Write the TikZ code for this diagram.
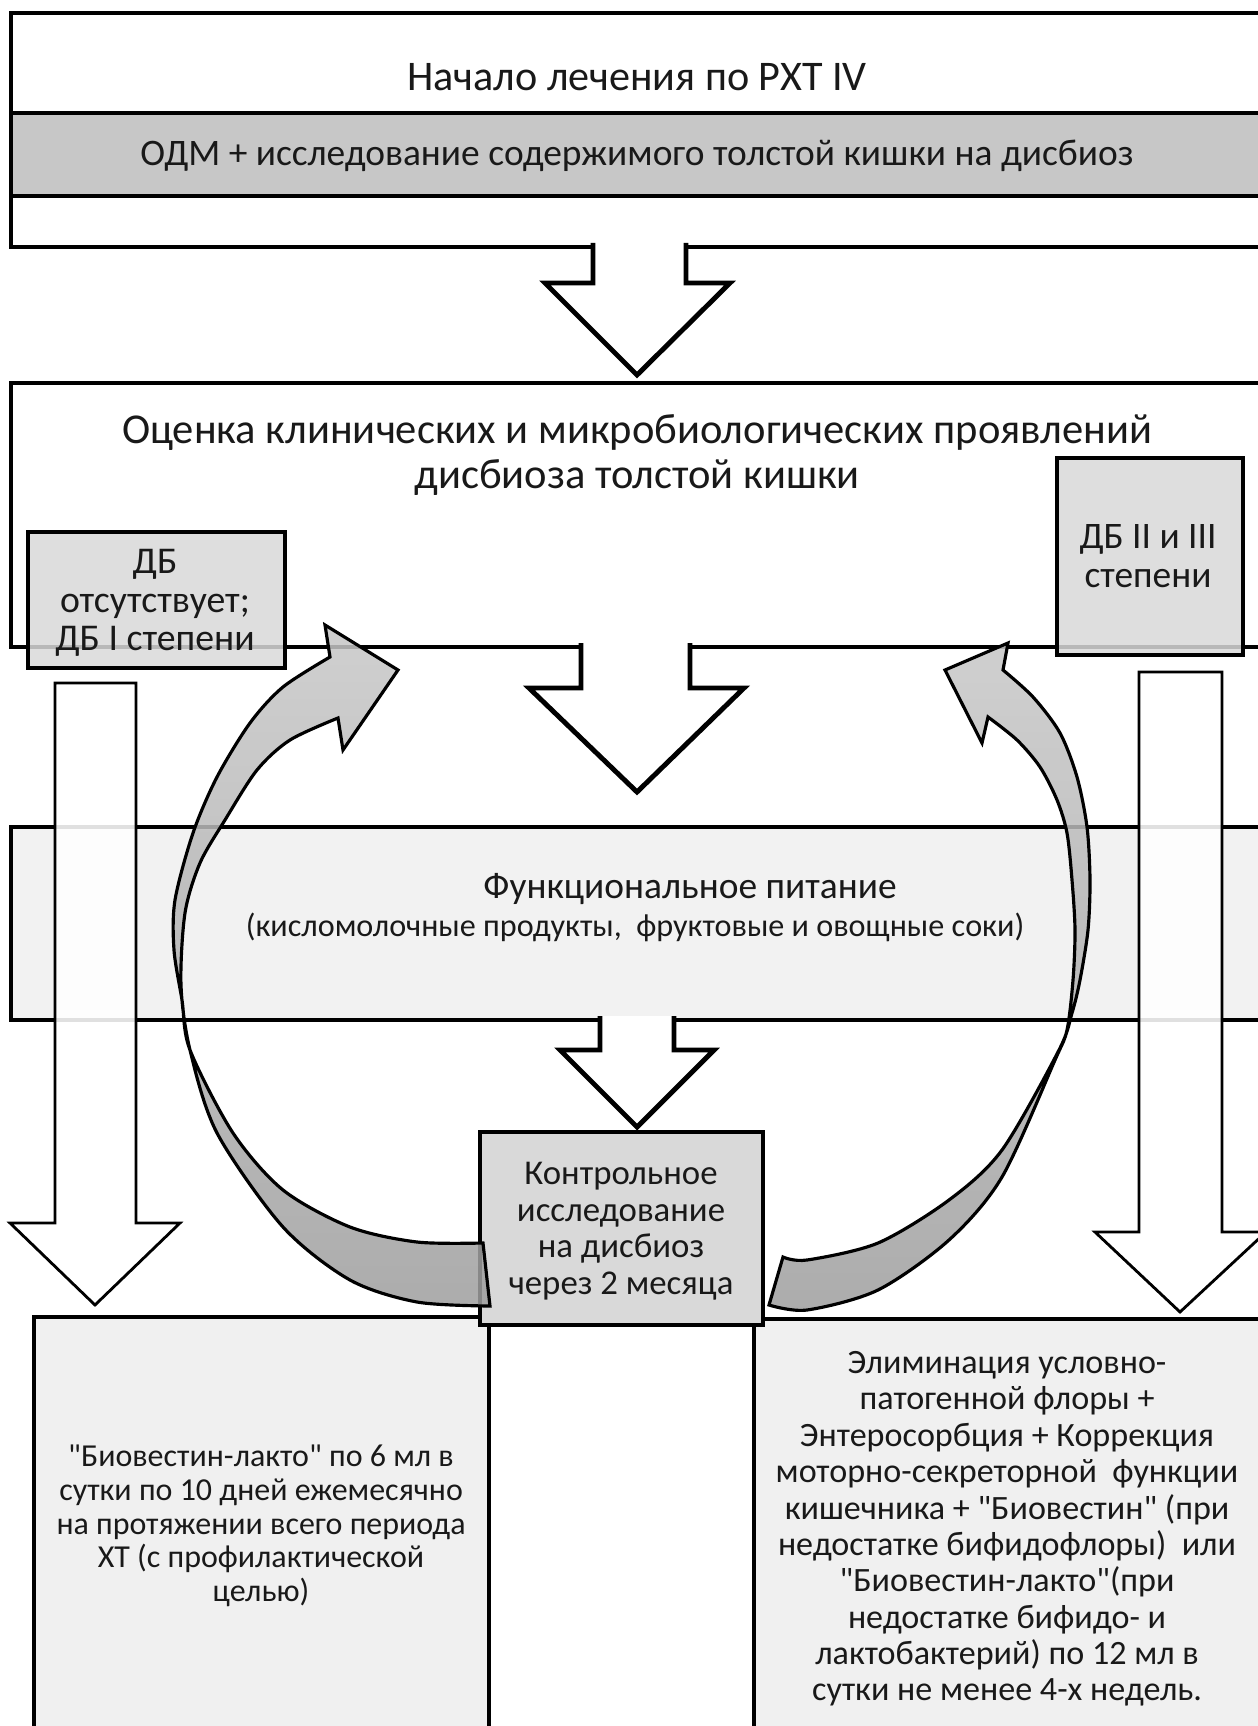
\documentclass[tikz,border=0pt]{standalone}
\usepackage{fontspec}
\setmainfont{Carlito}
\newfontfamily\calfont{Carlito}
\usetikzlibrary{positioning, fit}

\tikzset{
  bigbox/.style={draw, line width=2.8pt, fill=white, inner sep=0pt},
  smallbox/.style={draw, line width=1.8pt, fill=black!15, fill opacity=0.85, inner sep=0pt},
  blockarrow/.style={draw, line width=2.8pt, fill=white, line join=miter},
  thinarrow/.style={draw, line width=1.6pt, fill=white, fill opacity=0.88, line join=miter},
  curvearrow/.style={draw, line width=1.8pt, top color=black!22, bottom color=black!38, fill opacity=0.85},
  boxtext/.style={text=black!90, align=center, inner sep=0pt},
  fsize/.style 2 args={font=\calfont\fontsize{#1pt}{#2pt}\selectfont}
}

\begin{document}
\begin{tikzpicture}[x=0.02cm, y=-0.02cm]
    \useasboundingbox (0,0) rectangle (1257,1726);

    % start of treatment
    \node[bigbox, fit={(11,13) (1290,247)}] (startbox) {};
    \node[bigbox, fill=black!22, fit={(11,113) (1290,196)}] (odmband) {};
    \node[boxtext, fsize={24}{28}] (start) at (637,77) {Начало лечения по РХТ IV};
    \node[boxtext, fsize={21.3}{25}] (odm) at (637,156) {ОДМ + исследование содержимого толстой кишки на дисбиоз};

    \filldraw[blockarrow] (593,243) -- (593,283) -- (545,283) -- (637,375) -- (730,283) -- (686,283) -- (686,243);

    % assessment
    \node[bigbox, fit={(11,383) (1290,647)}] (assessbox) {};
    \node[boxtext, fsize={24.2}{25.6}] (assess) at (637,455) {Оценка клинических и микробиологических проявлений\\дисбиоза толстой кишки};

    \filldraw[blockarrow] (581,643) -- (581,688) -- (529,688) -- (637,792) -- (744,688) -- (690,688) -- (690,643);

    % nutrition
    \node[bigbox, fill=black!5, fit={(11,827) (1290,1020)}] (foodbox) {};
    \node[boxtext, fsize={21.3}{25}] (food) at (690,889) {Функциональное питание};
    \node[boxtext, fsize={18.3}{22}] (foodlist) at (635,927) {(кисломолочные продукты,\ \ фруктовые и овощные соки)};

    \filldraw[blockarrow] (600,1016) -- (600,1050) -- (560,1050) -- (637,1127) -- (714,1050) -- (674,1050) -- (674,1016);

    % therapy boxes
    \node[bigbox, line width=1.8pt, fill=black!6, fit={(34,1317) (489,1760)}] (leftbox) {};
    \node[boxtext, fsize={18.2}{19.2}] (prophyl) at (261,1526) {"Биовестин-лакто" по 6 мл в\\сутки по 10 дней ежемесячно\\на протяжении всего периода\\ХТ (с профилактической\\целью)};
    \node[bigbox, line width=1.8pt, fill=black!6, fit={(754,1319) (1290,1760)}] (rightbox) {};
    \node[boxtext, fsize={19.4}{20.7}] (elim) at (1007,1529) {Элиминация условно-\\патогенной флоры +\\Энтеросорбция + Коррекция\\моторно-секреторной\ \ функции\\кишечника + "Биовестин" (при\\недостатке бифидофлоры)\ \ или\\"Биовестин-лакто"(при\\недостатке бифидо- и\\лактобактерий) по 12 мл в\\сутки не менее 4-х недель.};

    % control
    \node[smallbox, fill opacity=1, fit={(480,1132) (763,1325)}] (ctrlbox) {};
    \node[boxtext, fsize={19.8}{20.8}] (ctrl) at (621,1231) {Контрольное\\исследование\\на дисбиоз\\через 2 месяца};

    % grades
    \node[smallbox, fit={(28,532) (285,668)}] (nodbbox) {};
    \node[boxtext, fsize={21.5}{21.8}] (nodb) at (155,603) {ДБ\\отсутствует;\\ДБ I степени};
    \node[smallbox, fit={(1057,458) (1243,655)}] (highdbbox) {};
    \node[boxtext, fsize={21.3}{21.8}] (highdb) at (1148,556) {ДБ II и III\\степени};

    % thin arrows down
    \filldraw[thinarrow] (55,683) -- (136,683) -- (136,1223) -- (180,1223) -- (95,1305) -- (10,1223) -- (55,1223) -- cycle;
    \filldraw[thinarrow] (1139,672) -- (1222,672) -- (1222,1232) -- (1266,1232) -- (1180,1312) -- (1095,1232) -- (1139,1232) -- cycle;

    % curved arrows back
    \draw[curvearrow] plot[smooth] coordinates {(490,1306) (417,1302) (350,1280) (283,1227) (217,1133) (190,1050) (181,985) (185,913) (200,863) (225,820) (257,770) (290,740) (338,718)}
        -- (343,750) -- (398,670) -- (325,625) -- (330,657)
        -- plot[smooth] coordinates {(330,657) (283,687) (250,723) (217,777) (193,833) (175,900) (174,950) (182,1000) (190,1050) (233,1133) (283,1190) (350,1227) (417,1242) (483,1243)}
        -- cycle;
    \draw[curvearrow] plot[smooth] coordinates {(769,1305) (807,1310) (878,1290) (949,1240) (1002,1177) (1055,1060) (1067,1030) (1073,980) (1075,930) (1072,880) (1067,833) (1057,800) (1040,767) (1017,740) (988,717)}
        -- (982,743) -- (945,670) -- (1008,643) -- (1003,670)
        -- plot[smooth] coordinates {(1003,670) (1033,697) (1060,733) (1077,777) (1087,827) (1090,880) (1088,930) (1080,980) (1072,1013) (1059,1050) (1002,1150) (949,1200) (878,1243) (807,1260) (783,1257)}
        -- cycle;
\end{tikzpicture}
\end{document}
